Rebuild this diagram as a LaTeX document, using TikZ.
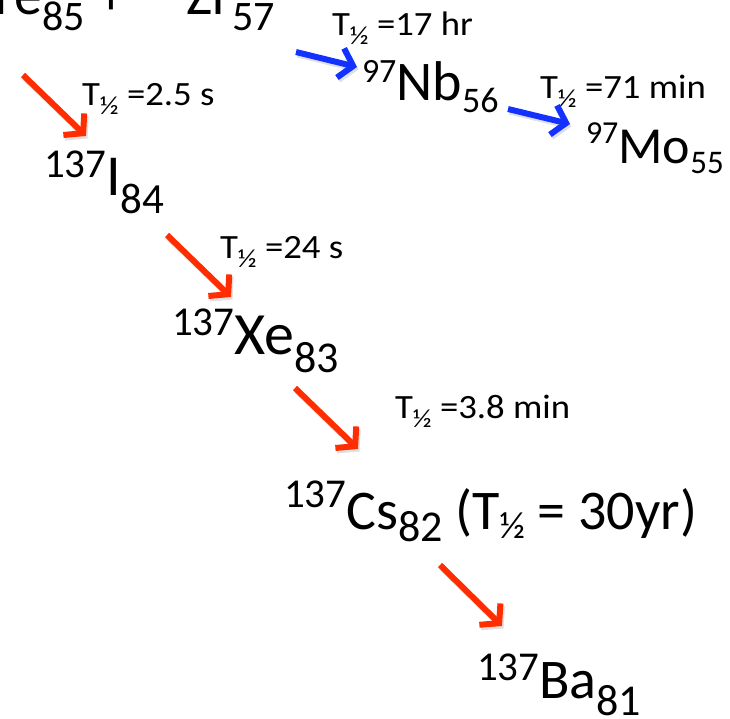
\documentclass[tikz,border=0pt]{standalone}
\usepackage{fontspec}
\setmainfont{Carlito}
\newfontfamily\lblfont{Carlito}[FakeStretch=1.08]
\usetikzlibrary{arrows.meta}
\definecolor{decayred}{RGB}{255,45,0}
\definecolor{decayblue}{RGB}{20,50,255}
\newcommand\fs[1]{\fontsize{#1}{#1}\selectfont}
% \nucl{main}{sup}{sub}{raise}{lower}{A}{El}{N}
\newcommand\nucl[8]{\raisebox{#4pt}{\fs{#2}#6}\fs{#1}#7\raisebox{-#5pt}{\fs{#3}#8}}
\newcommand\half[2]{\raisebox{-#2pt}{\fs{#1}½}}
\newcommand\hl[1]{\lblfont\fs{34}T\half{26}{9} =#1}
\begin{document}
\begin{tikzpicture}[x=1pt,y=-1pt,
  every node/.style={inner sep=0pt, outer sep=0pt, anchor=base west, text=black},
  arr/.style={line width=6pt, -{Straight Barb[length=13pt,width=30pt]}},
  redarr/.style={arr, draw=decayred},
  bluearr/.style={arr, draw=decayblue},
  shadowarr/.style={arr, draw=black!12, transform canvas={shift={(1.5,2.5)}}}]
\useasboundingbox (0,0) rectangle (730,718);
\clip (0,0) rectangle (730,718);
% nuclides
\node[anchor=base east] (te) at (85,14) {\nucl{56}{40}{42}{19}{16}{137}{T\kern0pt e}{85}};
\node[anchor=base] (plus) at (111.5,14) {\fs{56}+};
\node (zr) at (146,14) {\nucl{56}{40}{42}{19}{16}{97}{Zr}{57}};
\node (nb) at (362,100) {\nucl{56}{34}{36}{18}{12}{97}{Nb}{56}};
\node (mo) at (586,163) {\nucl{52}{32}{33}{20}{10}{97}{Mo}{55}};
\node (i) at (44,195) {\nucl{58}{41}{43}{18}{18}{137}{I}{84}};
\node (xe) at (172,354) {\nucl{60}{41}{44}{19}{18}{137}{Xe}{83}};
\node (cs) at (284,529) {\nucl{56}{41}{44}{22}{12}{137}{Cs}{82} \fs{56}(T\half{38}{9} = 30yr)};
\node (ba) at (477,698) {\nucl{56}{41}{44}{18}{17}{137}{Ba}{81}};
% half-life labels
\node (h1) at (332,35) {\hl{17 hr}};
\node (h2) at (82,105) {\hl{2.5 s}};
\node (h3) at (540,98) {\hl{71 min}};
\node (h4) at (220,258) {\hl{24 s}};
\node (h5) at (395,418) {\hl{3.8 min}};
% arrow end points
\coordinate (r1s) at (23,75);   \coordinate (r1e) at (86,136);
\coordinate (r2s) at (167,235); \coordinate (r2e) at (231,297);
\coordinate (r3s) at (295,388); \coordinate (r3e) at (358,449);
\coordinate (r4s) at (440,565); \coordinate (r4e) at (502,626);
\coordinate (b1s) at (296,52);  \coordinate (b1e) at (357,67);
\coordinate (b2s) at (508,109); \coordinate (b2e) at (570,124);
% shadows
\foreach \a in {r1,r2,r3,r4,b1,b2} \draw[shadowarr] (\a s) -- (\a e);
% arrows
\draw[redarr] (r1s) -- (r1e);
\draw[redarr] (r2s) -- (r2e);
\draw[redarr] (r3s) -- (r3e);
\draw[redarr] (r4s) -- (r4e);
\draw[bluearr] (b1s) -- (b1e);
\draw[bluearr] (b2s) -- (b2e);
\end{tikzpicture}
\end{document}
